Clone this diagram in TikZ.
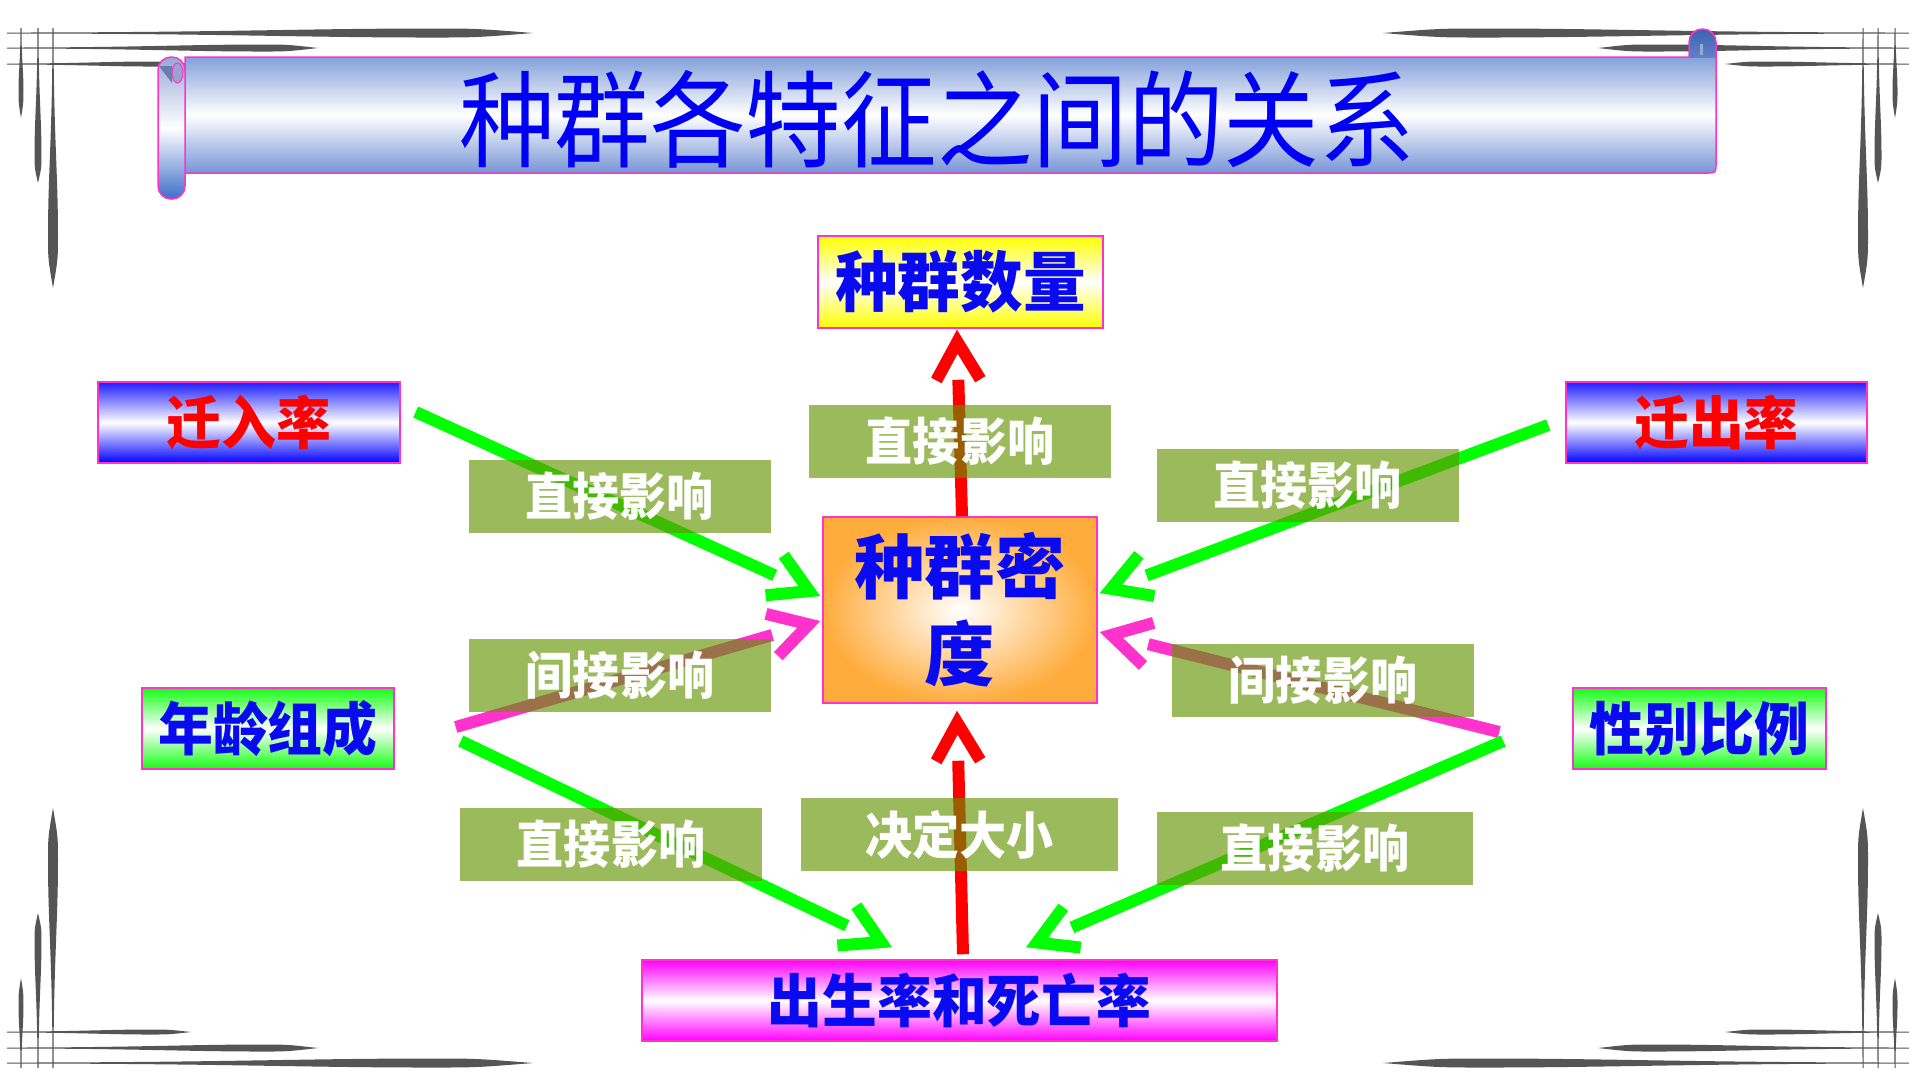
\documentclass[tikz,border=0pt]{standalone}
\usepackage{fontspec}
\setmainfont{Noto Sans CJK SC}
\usetikzlibrary{calc}
\definecolor{ttlblue}{RGB}{0,0,245}
\definecolor{txtblue}{RGB}{10,10,240}
\definecolor{txtred}{RGB}{255,0,0}
\definecolor{bordmag}{RGB}{255,51,204}
\definecolor{labfill}{RGB}{98,148,0}
\definecolor{arrgreen}{RGB}{0,255,0}
\definecolor{arrpink}{RGB}{255,51,204}
\definecolor{arrred}{RGB}{255,0,0}
\definecolor{brushgray}{RGB}{85,85,85}
\definecolor{bannertop}{RGB}{132,160,218}
\definecolor{bannerbot}{RGB}{118,148,214}
\definecolor{rolltop}{RGB}{150,170,215}
\definecolor{rollbot}{RGB}{62,110,200}
\definecolor{rolldark}{RGB}{58,98,178}
\definecolor{curlfill}{RGB}{150,165,205}
\definecolor{curldark}{RGB}{105,125,175}
\definecolor{orangeedge}{RGB}{255,172,60}
\definecolor{qblue}{RGB}{30,30,255}
\definecolor{agegreen}{RGB}{20,255,20}
\definecolor{birthmag}{RGB}{255,0,255}

\newcommand\tallt[2]{\scalebox{1}[#1]{#2}}

\tikzset{
  box/.style={draw=bordmag, line width=0.15mm, inner sep=0pt, minimum height=8.1mm,
    font=\bfseries\fontsize{15.6}{18}\selectfont, text=txtblue},
  bluebox/.style={box, top color=qblue, bottom color=blue, middle color=white, text=txtred},
  greenbox/.style={box, top color=agegreen, bottom color=agegreen, middle color=white},
  magbox/.style={box, top color=birthmag, bottom color=birthmag, middle color=white},
  lab/.style={fill=labfill, fill opacity=0.64, text opacity=1, text=white, inner sep=0pt,
    minimum height=7.3mm, minimum width=30.2mm, font=\bfseries\fontsize{13.4}{16}\selectfont},
  fat/.style={line width=1.2mm}
}

% thick connector with an open chevron head
\newcommand\fatarrow[3]{%
  \draw[fat,#3] (#1) -- ($(#2)!5mm!(#1)$);
  \coordinate (tmpap) at ($(#2)!1.2mm!(#1)$);
  \draw[fat,#3,miter limit=10] ($(tmpap)!4.4mm!30:(#1)$) -- (tmpap) -- ($(tmpap)!4.4mm!-30:(#1)$);
}
% tapered brush strokes
\newcommand\hbr[5]{%
  \fill[brushgray] (#2,{#1-0.5}) .. controls ({#2+0.5*(#3-#2)},{#1-0.5}) and ({#3-0.3*(#3-#2)},{#1-#5}) .. (#3,{#1-#5})
    .. controls ({#3+0.45*(#4-#3)},{#1-#5}) .. (#4,#1)
    .. controls ({#3+0.45*(#4-#3)},{#1+#5}) .. (#3,{#1+#5})
    .. controls ({#3-0.3*(#3-#2)},{#1+#5}) and ({#2+0.5*(#3-#2)},{#1+0.5}) .. (#2,{#1+0.5}) -- cycle;}
\newcommand\vbr[5]{%
  \fill[brushgray] ({#1-0.5},#2) .. controls ({#1-0.5},{#2+0.5*(#3-#2)}) and ({#1-#5},{#3-0.3*(#3-#2)}) .. ({#1-#5},#3)
    .. controls ({#1-#5},{#3+0.45*(#4-#3)}) .. (#1,#4)
    .. controls ({#1+#5},{#3+0.45*(#4-#3)}) .. ({#1+#5},#3)
    .. controls ({#1+#5},{#3-0.3*(#3-#2)}) and ({#1+0.5},{#2+0.5*(#3-#2)}) .. ({#1+0.5},#2) -- cycle;}
\newcommand\cornorn{%
  \hbr{33}{7}{430}{533}{4.5}
  \hbr{48}{7}{262}{318}{3.5}
  \hbr{64}{7}{150}{191}{2.5}
  \vbr{21}{28}{90}{118}{2.5}
  \vbr{38}{28}{155}{183}{3.5}
  \vbr{53}{28}{235}{288}{5}
}

\begin{document}
\begin{tikzpicture}[x=0.1mm,y=-0.1mm]
\useasboundingbox (0,0) rectangle (1920,1080);
\fill[white] (0,0) rectangle (1920,1080);

% corner ornaments
\cornorn
\begin{scope}[shift={(1916,0)},xscale=-1]\cornorn\end{scope}
\begin{scope}[shift={(0,1096)},yscale=-1]\cornorn\end{scope}
\begin{scope}[shift={(1916,1096)},xscale=-1,yscale=-1]\cornorn\end{scope}

% title scroll
\shadedraw[top color=bannertop, bottom color=bannerbot, middle color=white, draw=bordmag, line width=0.15mm]
  (185,57) -- (1716,57) -- (1716,163) .. controls (1716,173) .. (1706,173) -- (185,173) -- cycle;
\shadedraw[top color=rolltop, bottom color=rollbot, middle color=white, draw=bordmag, line width=0.15mm, rounded corners=1.3mm]
  (158,57) rectangle (185,199);
\fill[curldark] (159,66) -- (172,83) -- (172,66) -- cycle;
\filldraw[fill=curlfill, draw=bordmag, line width=0.1mm] (177.5,73) ellipse [x radius=5.5, y radius=10];
\shadedraw[top color=rolldark, bottom color=rolldark!80!white, draw=bordmag, line width=0.15mm, rounded corners=1.3mm]
  (1689,57) -- (1689,29) -- (1716,29) -- (1716,57);
\draw[rolltop, line width=0.3mm] (1701,44) -- (1701,55);

\node[font=\fontsize{27.2}{30}\selectfont, text=ttlblue, inner sep=0pt] (title) at (937,119) {\tallt{1.1}{种群各特征之间的关系}};

% main boxes
\node[box, minimum width=28.5mm, minimum height=9.2mm, top color=yellow, bottom color=yellow, middle color=white,
  font=\bfseries\fontsize{17.8}{20}\selectfont] (num) at (960.5,282) {\tallt{1.05}{种群数量}};
\node[box, minimum width=27.4mm, minimum height=18.6mm, inner color=white, outer color=orangeedge, align=center,
  font=\bfseries\fontsize{20}{24.8}\selectfont] (dens) at (960,610) {种群密\\度};
\node[bluebox, minimum width=30.2mm] (qianru) at (249,422.5) {\tallt{1.05}{迁入率}};
\node[bluebox, minimum width=30.1mm] (qianchu) at (1716.5,422.5) {\tallt{1.05}{迁出率}};
\node[greenbox, minimum width=25.2mm] (age) at (268,728.5) {\tallt{1.05}{年龄组成}};
\node[greenbox, minimum width=25.3mm] (sex) at (1699.5,728.5) {\tallt{1.05}{性别比例}};
\node[magbox, minimum width=63.5mm] (birth) at (959.5,1000.5) {\tallt{1.05}{出生率和死亡率}};

% connector end points
\coordinate (s1) at ($(dens.north)+(2,0)$);
\coordinate (e1) at ($(num.south)+(-3.5,1)$);
\coordinate (s2) at ($(birth.north)+(3.5,-5)$);
\coordinate (e2) at ($(dens.south)+(-3,7)$);
\coordinate (s3) at ($(qianru.east)+(15,-10.5)$);
\coordinate (e3) at ($(dens.west)+(-2,-14)$);
\coordinate (s4) at ($(qianchu.west)+(-17,2.5)$);
\coordinate (e4) at ($(dens.east)+(2,-17)$);
\coordinate (s5) at ($(age.east)+(61,-1.5)$);
\coordinate (e5) at ($(dens.west)+(-2,11)$);
\coordinate (s6) at ($(sex.west)+(-73,3.5)$);
\coordinate (e6) at ($(dens.east)+(2,22)$);
\coordinate (s7) at ($(age.east)+(66,12.5)$);
\coordinate (e7) at ($(birth.north)+(-67.5,-12)$);
\coordinate (s8) at ($(sex.west)+(-69,12.5)$);
\coordinate (e8) at ($(birth.north)+(66.5,-12)$);

\fatarrow{s1}{e1}{arrred}
\fatarrow{s2}{e2}{arrred}
\fatarrow{s3}{e3}{arrgreen}
\fatarrow{s4}{e4}{arrgreen}
\fatarrow{s5}{e5}{arrpink}
\fatarrow{s6}{e6}{arrpink}
\fatarrow{s7}{e7}{arrgreen}
\fatarrow{s8}{e8}{arrgreen}

% labels
\node[lab] (l1) at (960,441.5) {\tallt{1.08}{直接影响}};
\node[lab] (l2) at (619.5,496.5) {\tallt{1.08}{直接影响}};
\node[lab] (l3) at (1307.5,485.5) {\tallt{1.08}{直接影响}};
\node[lab] (l4) at (620,675.5) {\tallt{1.08}{间接影响}};
\node[lab] (l5) at (1323,680) {\tallt{1.08}{间接影响}};
\node[lab] (l6) at (611,844.5) {\tallt{1.08}{直接影响}};
\node[lab, minimum width=31.7mm] (l7) at (959.5,834.5) {\tallt{1.08}{决定大小}};
\node[lab, minimum width=31.6mm] (l8) at (1315,848.5) {\tallt{1.08}{直接影响}};
\end{tikzpicture}
\end{document}
